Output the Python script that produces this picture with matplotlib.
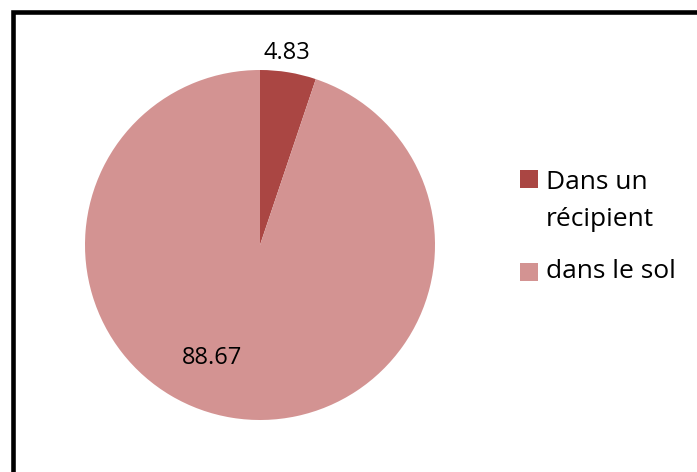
import matplotlib
matplotlib.use("Agg")
import matplotlib.pyplot as plt
from matplotlib.patches import Rectangle

categories = ["Dans un\nrécipient", "dans le sol"]
values = [4.83, 88.67]
value_labels = ["4.83", "88.67"]
colors = ["#AA4643", "#D39392"]

plt.rcParams['font.family'] = ['Open Sans', 'DejaVu Sans']

W, H = 697, 472
fig = plt.figure(figsize=(W / 100, H / 100), dpi=100)

# pie axes: centre (260,245) px, radius 175 px
cx, cy, r = 260, 245, 175
ax = fig.add_axes([(cx - r) / W, (H - cy - r) / H, 2 * r / W, 2 * r / H])
wedges, _ = ax.pie(values, colors=colors, startangle=90, counterclock=False,
                   wedgeprops=dict(linewidth=0))
ax.set_xlim(-1, 1)
ax.set_ylim(-1, 1)
ax.set_aspect('equal')

# data labels
label_pos = [(0.155, 1.097), (-0.274, -0.646)]
for (x, y), t in zip(label_pos, value_labels):
    ax.text(x, y, t, ha='center', va='center', fontsize=17, color='black')

# legend (manual)
leg_items = [(179, 198), (272, 272)]  # (marker centre y, text centre y) in px
for (my, ty), lab, col in zip(leg_items, categories, colors):
    fig.patches.append(Rectangle((520 / W, (H - my - 9) / H), 18 / W, 18 / H,
                                 transform=fig.transFigure, facecolor=col,
                                 edgecolor='none'))
    fig.text(546 / W, 1 - (my - 9) / H if '\n' in lab else 1 - ty / H, lab,
             ha='left', va='top' if '\n' in lab else 'center',
             fontsize=19, color='black', linespacing=1.62)

# outer frame
fig.patches.append(Rectangle((13.5 / W, -0.2), 1.5, 1.2 - 12 / H,
                             transform=fig.transFigure, facecolor='none',
                             edgecolor='black', linewidth=3.3, clip_on=False))

fig.savefig("out.png", dpi=100)
